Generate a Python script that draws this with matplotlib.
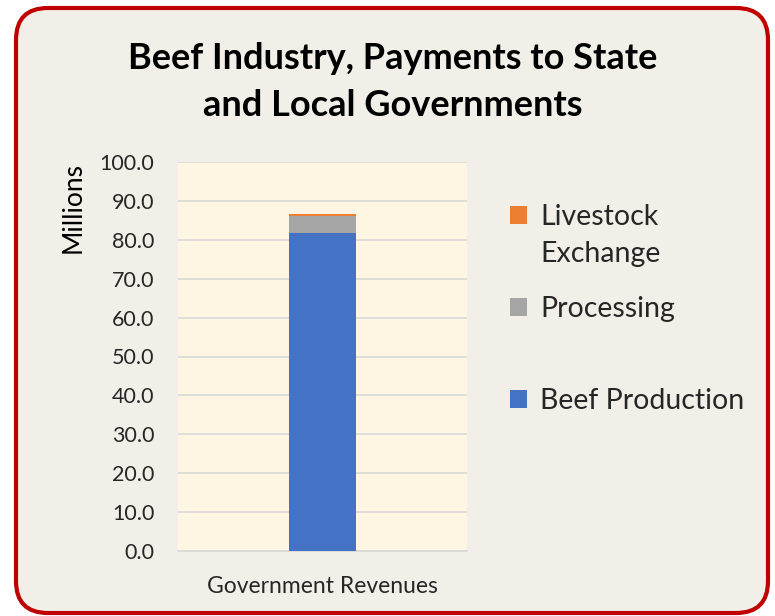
import matplotlib.pyplot as plt
from matplotlib.patches import FancyBboxPatch

categories = ['Government Revenues']
beef_production = [81.8]
processing = [4.3]
livestock_exchange = [0.5]
y_ticks = [0, 10, 20, 30, 40, 50, 60, 70, 80, 90, 100]

plt.rcParams['font.family'] = ['Lato', 'DejaVu Sans']

fig = plt.figure(figsize=(7.75, 6.16), dpi=100)
fig.patch.set_facecolor('white')

# rounded chart border (inches)
border = FancyBboxPatch((0.16, 0.03), 7.52, 6.05, boxstyle='round,pad=0,rounding_size=0.32',
                        transform=fig.dpi_scale_trans, facecolor='#F2EFE9', edgecolor='#C00000',
                        linewidth=3, zorder=-10)
fig.patches.append(border)

ax = fig.add_axes([178 / 775, 1 - 551 / 616, 289 / 775, 389 / 616])
ax.set_facecolor('#FEF5E2')

w = 0.235
b1 = ax.bar(categories, beef_production, width=w, color='#4472C4', label='Beef Production', zorder=3)
b2 = ax.bar(categories, processing, width=w, bottom=beef_production, color='#A5A5A5',
            label='Processing', zorder=3)
bottom2 = [a + b for a, b in zip(beef_production, processing)]
b3 = ax.bar(categories, livestock_exchange, width=w, bottom=bottom2, color='#ED7D31',
            label='Livestock', zorder=3)

ax.set_xlim(-0.5, 0.5)
ax.set_ylim(0, 100)
ax.set_yticks(y_ticks)
ax.set_yticklabels([f'{v:.1f}' for v in y_ticks], fontsize=15.5, color='#262626')
ax.tick_params(axis='x', labelsize=16.5, colors='#262626', length=0, pad=18)
ax.tick_params(axis='y', length=0, pad=17)
ax.grid(axis='y', color='#D9D9D9', linewidth=1.2, zorder=0)
for s in ['top', 'right', 'left']:
    ax.spines[s].set_visible(False)
ax.spines['bottom'].set_color('#D9D9D9')
ax.spines['bottom'].set_linewidth(1.2)
ax.set_ylabel('Millions', fontsize=19, color='#000000', labelpad=10, loc='top')

fig.text(0.507, 1 - 82 / 616, 'Beef Industry, Payments to State\nand Local Governments',
         ha='center', va='center', fontsize=26, fontweight='bold', linespacing=1.5)

leg = fig.legend(handles=[b3, b2, b1], loc='upper left', bbox_to_anchor=(0.625, 0.71),
                 frameon=False, fontsize=20.5, handlelength=0.6, handleheight=0.6,
                 handletextpad=0.45, labelspacing=2.32, labelcolor='#262626')

# second line of the "Livestock Exchange" entry
fig.canvas.draw()
t0 = leg.get_texts()[0].get_window_extent()
fig.text(t0.x0 / 775, (t0.y0 - 37) / 616, 'Exchange', ha='left', va='bottom',
         fontsize=20.5, color='#262626')

fig.savefig('out.png', dpi=100, facecolor=fig.get_facecolor())
